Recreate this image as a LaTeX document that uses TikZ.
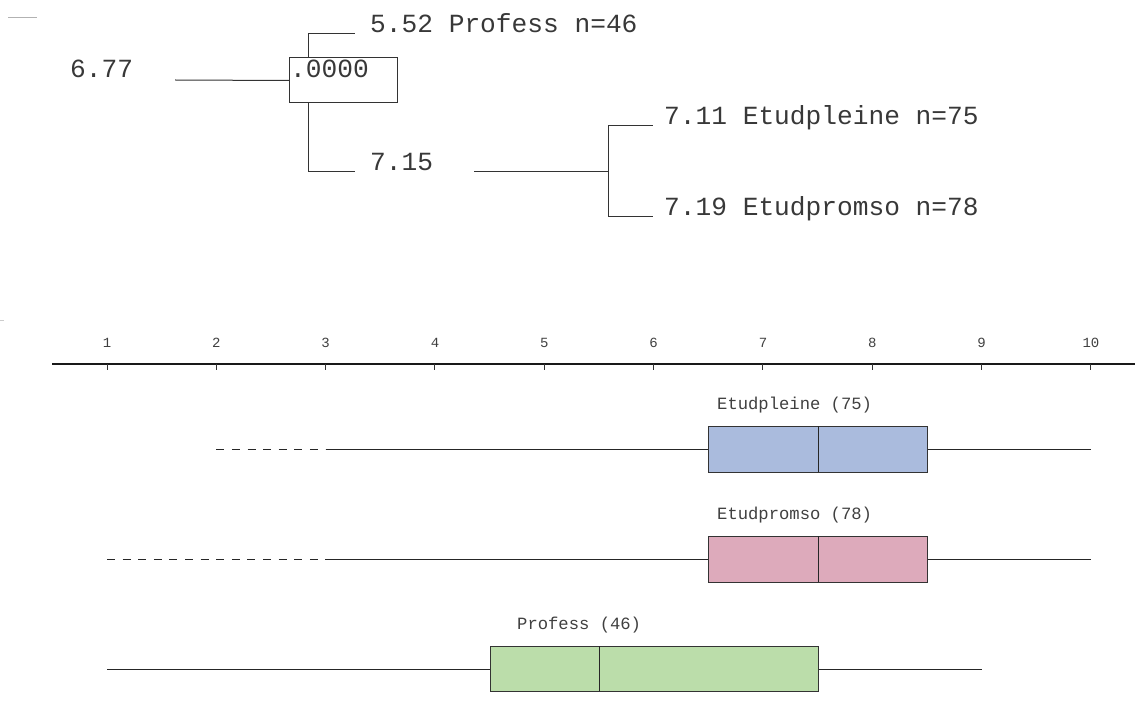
\documentclass[tikz,border=0pt]{standalone}
\usepackage{fontspec}
\setmainfont{Liberation Mono}
\definecolor{bxblue}{RGB}{170,187,221}
\definecolor{bxpink}{RGB}{221,170,187}
\definecolor{bxgreen}{RGB}{187,221,170}
\begin{document}
\begin{tikzpicture}[x=1pt,y=-1pt,
  big/.style={font=\fontsize{26.2}{27}\selectfont, inner sep=0pt, anchor=base west, text=black!78},
  lbl/.style={font=\fontsize{17.2}{18}\selectfont, inner sep=0pt, anchor=base west, text=black!75},
  axl/.style={font=\fontsize{14}{15}\selectfont, inner sep=0pt, anchor=base, text=black!75},
  tree/.style={line width=1pt, draw=black!80},
  whisk/.style={line width=1pt, draw=black!85},
  dashwhisk/.style={line width=1pt, draw=black!85, dash pattern=on 8pt off 7.6pt},
  bx/.style={line width=1pt, draw=black!80},
  med/.style={line width=1pt, draw=black!85}]
\useasboundingbox (0,0) rectangle (1135,719);

% stray marks
\draw[gray!60, line width=0.8pt] (8,17) -- (37,17);
\draw[gray!40, line width=0.8pt] (0,320) -- (4,320);

% ---------- tree ----------
\node[big] (root) at (70,78) {6.77};
\node[draw=black!80, line width=1pt, anchor=north west, minimum width=108pt, minimum height=45pt, inner sep=0pt] (sig) at (289,57.5) {};
\node[big] (sigt) at (290,78) {.0000};
\node[big] (prof) at (370,33) {5.52 Profess n=46};
\node[big] (mid) at (370,171) {7.15};
\node[big] (ple) at (664,125) {7.11 Etudpleine n=75};
\node[big] (pro) at (664,216) {7.19 Etudpromso n=78};

\coordinate (rootR) at (175,80);
\coordinate (sigUp) at (308,57.5);
\coordinate (sigDn) at (308,102.5);
\coordinate (profL) at (355,34);
\coordinate (midL) at (355,172);
\coordinate (midR) at (474,172);
\coordinate (split) at (608,172);
\coordinate (pleL) at (653,126);
\coordinate (proL) at (653,217);

\draw[tree] (rootR) -- (sig.west);
\draw[tree] (sigUp) |- (profL);
\draw[tree] (sigDn) |- (midL);
\draw[tree] (midR) -- (split);
\draw[tree] (split) |- (pleL);
\draw[tree] (split) |- (proL);

% ---------- axis ----------
\draw[line width=1.3pt, black!90] (52,364) -- (1135,364);
\foreach \v in {1,...,10} {
  \pgfmathsetmacro{\xx}{107+(\v-1)*109.33}
  \draw[line width=1pt, black!80] (\xx,364) -- (\xx,370);
  \node[axl] (ax\v) at (\xx,347) {\v};
}

% ---------- boxplots ----------
% x(v) = 107 + (v-1)*109.33
% Etudpleine
\node[lbl] (l1) at (717,409) {Etudpleine (75)};
\draw[dashwhisk] (216.3,449) -- (325.7,449);
\draw[whisk] (325.7,449) -- (708.7,449);
\draw[whisk] (927.9,449) -- (1091,449);
\draw[bx, fill=bxblue] (708.7,426) rectangle (927.9,472);
\draw[med] (818.3,426) -- (818.3,472);

% Etudpromso
\node[lbl] (l2) at (717,519) {Etudpromso (78)};
\draw[dashwhisk] (107,559) -- (325.7,559);
\draw[whisk] (325.7,559) -- (708.7,559);
\draw[whisk] (927.9,559) -- (1091,559);
\draw[bx, fill=bxpink] (708.7,536) rectangle (927.9,582);
\draw[med] (818.3,536) -- (818.3,582);

% Profess
\node[lbl] (l3) at (517,629) {Profess (46)};
\draw[whisk] (107,669) -- (490,669);
\draw[whisk] (818.3,669) -- (981.6,669);
\draw[bx, fill=bxgreen] (490,646) rectangle (818.3,691);
\draw[med] (599.3,646) -- (599.3,691);
\end{tikzpicture}
\end{document}
